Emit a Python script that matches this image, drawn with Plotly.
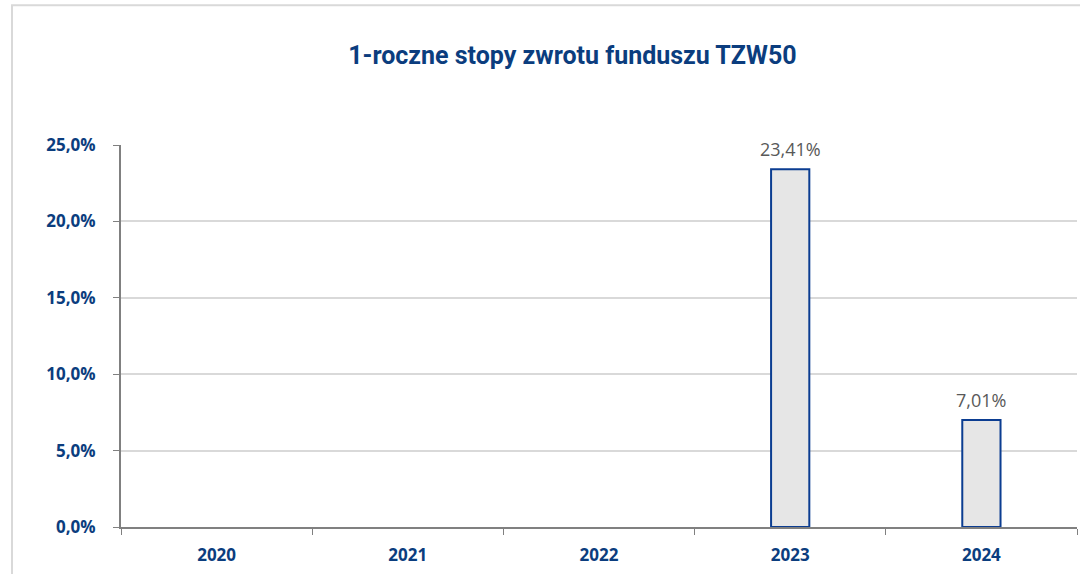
import plotly.graph_objects as go

# data
years = ['2020', '2021', '2022', '2023', '2024']
returns = [None, None, None, 23.41, 7.01]
labels = ['', '', '', '23,41%', '7,01%']
y_ticks = [0, 5, 10, 15, 20, 25]

title = '1-roczne stopy zwrotu funduszu TZW50'
blue = '#0b3d7e'

fig = go.Figure()
fig.add_trace(go.Bar(x=years, y=returns, width=0.2,
                     marker=dict(color='#e6e6e6', line=dict(color='#0b3d91', width=2)),
                     showlegend=False))

# value labels a bit higher above the bars than plotly's default
# (category index as x, numeric-looking strings get misread on annotations)
for i, (val, lab) in enumerate(zip(returns, labels)):
    if val is None:
        continue
    fig.add_annotation(x=i, y=val, text=lab, showarrow=False, yanchor='bottom', yshift=6,
                       font=dict(color='#595959', size=18, family='Open Sans'))

fig.update_layout(
    width=1080, height=574,
    margin=dict(l=121, r=3, t=145, b=47),
    paper_bgcolor='white', plot_bgcolor='white',
    separators=', ',
    title=dict(text='<b>' + title + '</b>', x=0.53, xanchor='center', y=0.904, yanchor='middle',
               font=dict(family='Roboto, sans-serif', size=25, color=blue)),
    xaxis=dict(type='category', categoryorder='array', categoryarray=years,
               tickson='boundaries', ticks='outside', ticklen=6, tickcolor='#808080',
               showline=True, linecolor='#808080', linewidth=2, showgrid=False,
               ticklabelstandoff=12,
               tickfont=dict(family='Open Sans', size=17, color=blue, weight='bold')),
    yaxis=dict(range=[0, 25], tickvals=y_ticks, ticktext=[f'{v},0%' for v in y_ticks],
               ticks='outside', ticklen=6, tickcolor='#808080',
               showline=True, linecolor='#808080', linewidth=2,
               gridcolor='#d9d9d9', gridwidth=2, zeroline=False,
               ticklabelstandoff=14,
               tickfont=dict(family='Open Sans', size=17, color=blue, weight='bold')),
)

# outer chart frame (top and left edges visible)
fig.add_shape(type='rect', xref='paper', yref='paper', x0=-0.114, x1=1.2, y0=-0.3, y1=1.366,
              line=dict(color='#d9d9d9', width=2), layer='below')

# drop the default body margin so the page starts at 0,0
fig.write_html('out.html', config={'displayModeBar': False},
               post_script="document.body.style.margin='0';")
